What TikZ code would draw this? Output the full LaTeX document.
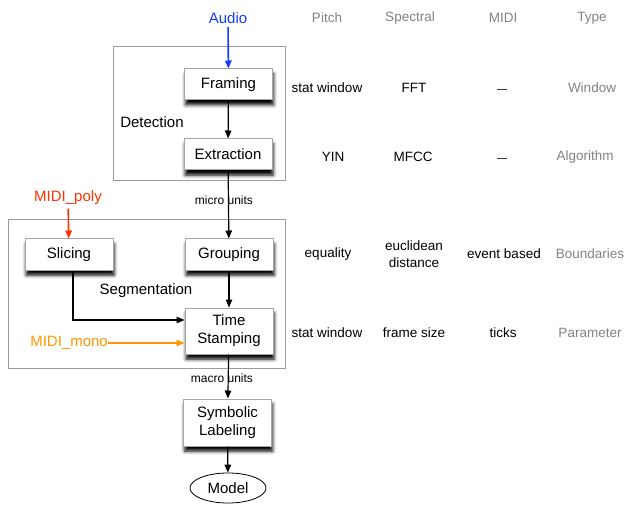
\documentclass[tikz,border=0pt]{standalone}
\usepackage{fontspec}
\setmainfont{Liberation Sans}
\usetikzlibrary{shadows.blur,arrows.meta,shapes.geometric}
\definecolor{audioblue}{RGB}{20,60,255}
\definecolor{polyred}{RGB}{255,50,0}
\definecolor{monoorange}{RGB}{255,150,0}
\definecolor{headgrey}{RGB}{130,130,130}
\definecolor{framegrey}{RGB}{155,155,155}
\begin{document}
\begin{tikzpicture}[x=1pt,y=-1pt,
  stage/.style={draw=black!35, fill=white, line width=1pt, minimum width=88pt,
    minimum height=31pt, align=center, inner sep=2pt,
    font=\fontsize{15}{18}\selectfont,
    blur shadow={shadow xshift=1.2pt, shadow yshift=-5pt, shadow blur radius=3.5pt, shadow opacity=100}},
  group/.style={draw=framegrey, line width=1pt, inner sep=0pt},
  lbl/.style={font=\fontsize{15}{18}\selectfont},
  cell/.style={font=\fontsize{13.5}{17}\selectfont, align=center, inner sep=0pt},
  head/.style={cell, text=headgrey},
  none/.style={draw=black!75, line width=0.9pt},
  small/.style={font=\fontsize{12}{14}\selectfont, inner sep=0pt},
  flow/.style={-{Triangle[length=8pt,width=6.5pt]}, line width=1.2pt},
]
\useasboundingbox (0,0) rectangle (628,510);

% processing groups
\node[group, minimum width=172pt, minimum height=134pt] (detect) at (199,114) {};
\node[group, minimum width=277pt, minimum height=148pt] (segment) at (146.5,294) {};
\node[lbl] (detectlbl) at (152,122) {Detection};
\node[lbl] (segmentlbl) at (146,291) {Segmentation};

% stages
\node[stage] (framing) at (228.5,84.5) {Framing};
\node[stage] (extract) at (228,154.5) {Extraction};
\node[stage] (slicing) at (69,254.5) {Slicing};
\node[stage] (grouping) at (229,254.5) {Grouping};
\node[stage, minimum height=46pt] (stamp) at (229,331) {Time\\Stamping};
\node[stage, minimum height=47pt] (symb) at (227.5,422.5) {Symbolic\\Labeling};
\node[ellipse, draw, fill=white, line width=0.8pt, minimum width=76pt, minimum height=30pt, lbl] (model) at (228,488) {Model};

% inputs
\node[lbl, text=audioblue] (audio) at (228,18) {Audio};
\node[lbl, text=polyred] (poly) at (68,198) {MIDI\_poly};
\node[lbl, text=monoorange, anchor=east, inner sep=0pt] (mono) at (108,343) {MIDI\_mono};

% unit labels
\node[small] (micro) at (224,200) {micro units};
\node[small] (macro) at (222,378) {macro units};

% connectors
\draw[flow, audioblue, line width=1.6pt] (audio) -- (framing);
\draw[flow] (framing) -- (extract);
\draw[flow] (extract) -- (grouping);
\draw[flow] (grouping) -- (stamp);
\draw[flow] (stamp) -- (symb);
\draw[flow] (symb) -- (model);
\draw[flow, polyred, line width=1.6pt] (poly) -- (slicing);
\draw[flow] ([xshift=4pt]slicing.south) |- ([yshift=11pt]stamp.west);
\draw[flow, monoorange, line width=1.6pt] (mono.east) -- ([yshift=-12pt]stamp.west);

% parameter table
\node[head] (hpitch) at (327,18) {Pitch};
\node[head] (hspec) at (410,18) {Spectral};
\node[head] (hmidi) at (503,18) {MIDI};
\node[head] (htype) at (592,18) {Type};

\node[cell] (p1) at (327,88) {stat window};
\node[cell] (s1) at (414,88) {FFT};
\coordinate (m1) at (502,89);
\draw[none] ([xshift=-5pt]m1) -- ([xshift=5pt]m1);
\node[head] (t1) at (592,88) {Window};

\node[cell] (p2) at (333,157) {YIN};
\node[cell] (s2) at (413,157) {MFCC};
\coordinate (m2) at (502,158);
\draw[none] ([xshift=-5pt]m2) -- ([xshift=5pt]m2);
\node[head] (t2) at (585,157) {Algorithm};

\node[cell] (p3) at (328,254) {equality};
\node[cell] (s3) at (414,254.5) {euclidean\\distance};
\node[cell] (m3) at (504,254) {event based};
\node[head] (t3) at (590,254) {Boundaries};

\node[cell] (p4) at (327,333) {stat window};
\node[cell] (s4) at (414,333) {frame size};
\node[cell] (m4) at (503,333) {ticks};
\node[head] (t4) at (590,333) {Parameter};
\end{tikzpicture}
\end{document}
